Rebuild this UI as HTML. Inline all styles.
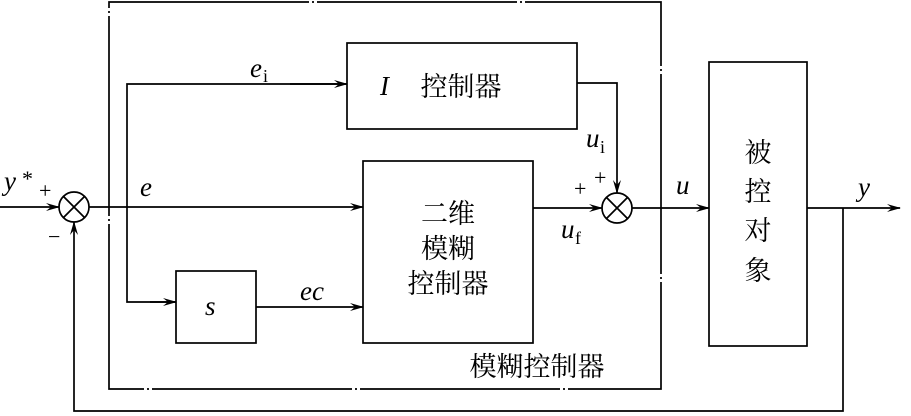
<!DOCTYPE html>
<html><head><meta charset="utf-8"><style>
html,body{margin:0;padding:0;background:#fff;}
svg{display:block;}
text{font-family:"Liberation Serif","Noto Serif CJK SC",serif;fill:#000;}
.cn{font-family:"Liberation Sans","Noto Sans CJK SC",sans-serif;}
</style></head><body>
<svg width="911" height="416" viewBox="0 0 911 416" xmlns="http://www.w3.org/2000/svg">
<defs><marker id="a" markerWidth="14" markerHeight="8" refX="13" refY="4" orient="auto" markerUnits="userSpaceOnUse"><path d="M0,0 L14,4 L0,8 L5,4 Z" fill="#000"/></marker></defs>
<g stroke="#000" stroke-width="1.7" fill="none">
<path d="M109,2 H661 V389 H109 Z" stroke-dasharray="200,3,2,3"/>
<rect x="347" y="43" width="230" height="86"/>
<rect x="363" y="161" width="170" height="182"/>
<rect x="176" y="271" width="80" height="72"/>
<rect x="709" y="62" width="98" height="284"/>
<circle cx="74" cy="207" r="15"/>
<path d="M63.4,196.4 L84.6,217.6 M84.6,196.4 L63.4,217.6"/>
<circle cx="617" cy="208" r="15"/>
<path d="M606.4,197.4 L627.6,218.6 M627.6,197.4 L606.4,218.6"/>
<line x1="0" y1="207" x2="59" y2="207" marker-end="url(#a)"/>
<line x1="89" y1="207" x2="363" y2="207" marker-end="url(#a)"/>
<path d="M347,84 H127 V302 H176" />
<line x1="290" y1="84" x2="347" y2="84" marker-end="url(#a)"/>
<line x1="150" y1="302" x2="176" y2="302" marker-end="url(#a)"/>
<line x1="256" y1="307" x2="363" y2="307" marker-end="url(#a)"/>
<path d="M577,83 H617 V193" marker-end="url(#a)"/>
<line x1="533" y1="208" x2="602" y2="208" marker-end="url(#a)"/>
<line x1="632" y1="208" x2="709" y2="208" marker-end="url(#a)"/>
<line x1="807" y1="208" x2="900" y2="208" marker-end="url(#a)"/>
<path d="M843,208 V411 H74 V222" marker-end="url(#a)"/>
</g>
<g font-size="27" font-style="italic">
<text x="4" y="190">y</text><text x="22" y="186" font-size="22" font-style="normal">*</text>
<text x="140" y="196">e</text>
<text x="250" y="77">e</text><text x="263" y="82" font-size="18" font-style="normal">i</text>
<text x="380" y="95">I</text>
<text x="205" y="315">s</text>
<text x="300" y="300">ec</text>
<text x="586" y="147">u</text><text x="600" y="153" font-size="18" font-style="normal">i</text>
<text x="561" y="238">u</text><text x="575" y="244" font-size="18" font-style="normal">f</text>
<text x="676" y="194">u</text>
<text x="858" y="196">y</text>
</g>
<g font-size="22">
<text x="39" y="198">+</text>
<text x="48" y="244">−</text>
<text x="574" y="196">+</text>
<text x="594" y="185">+</text>
</g>
<g class="cn" font-size="27" text-anchor="middle">
<text x="461" y="96">控制器</text>
<text x="448" y="223">二维</text>
<text x="448" y="258">模糊</text>
<text x="448" y="293">控制器</text>
<text x="758" y="162">被</text>
<text x="758" y="201">控</text>
<text x="758" y="240">对</text>
<text x="758" y="280">象</text>
<text x="537" y="376">模糊控制器</text>
</g>
</svg>
</body></html>
